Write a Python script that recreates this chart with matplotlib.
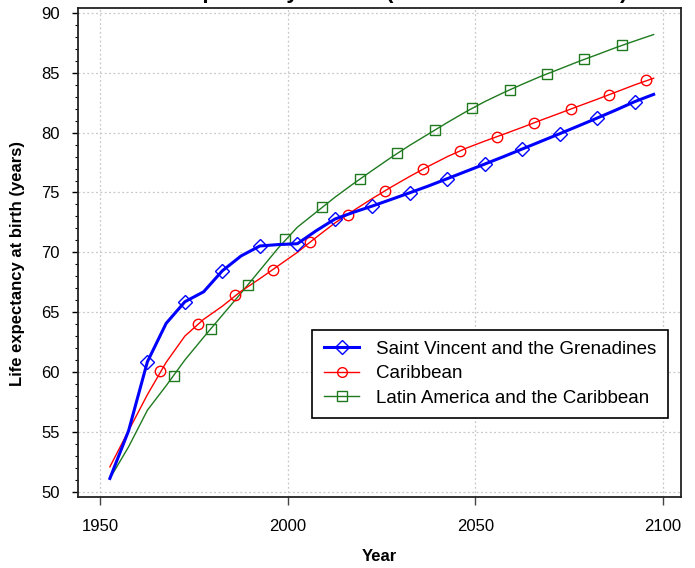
import matplotlib
matplotlib.use("Agg")
import matplotlib.pyplot as plt
from matplotlib.ticker import MultipleLocator
from matplotlib.lines import Line2D

plt.rcParams['font.family'] = ['Liberation Sans', 'DejaVu Sans']

years = [1952.5 + 5 * i for i in range(30)]

svg = [51.1, 55.1, 60.85, 64.06, 65.87, 66.7, 68.46, 69.7, 70.53, 70.65,
       70.72, 71.8, 72.78, 73.35, 73.87, 74.42, 74.98, 75.55, 76.16, 76.77,
       77.38, 78.0, 78.64, 79.28, 79.92, 80.57, 81.23, 81.9, 82.6, 83.2]

carib = [52.07, 55.1, 58.1, 60.8, 63.0, 64.4, 65.5, 66.75, 67.8, 68.9,
         70.0, 71.25, 72.45, 73.5, 74.5, 75.45, 76.35, 77.2, 78.0, 78.7,
         79.3, 79.87, 80.45, 81.05, 81.63, 82.22, 82.8, 83.4, 84.0, 84.55]

lac = [51.1, 53.75, 56.8, 58.85, 61.0, 62.9, 64.75, 66.6, 68.5, 70.4,
       72.1, 73.35, 74.6, 75.75, 76.85, 77.93, 78.95, 79.9, 80.85, 81.76,
       82.6, 83.35, 84.05, 84.72, 85.33, 85.95, 86.53, 87.12, 87.67, 88.2]

carib_mk_years = [1966, 1976, 1986, 1996, 2006, 2015.9, 2025.8, 2035.9, 2045.8,
                  2055.8, 2065.7, 2075.6, 2085.6, 2095.6]
carib_mk_vals = [60.1, 64.0, 66.43, 68.55, 70.9, 73.15, 75.15, 76.94, 78.47,
                 79.67, 80.84, 82.0, 83.18, 84.38]

lac_mk_years = [1969.5, 1979.4, 1989.4, 1999.3, 2009.2, 2019.2, 2029.2, 2039.2,
                2049.1, 2059.1, 2069.1, 2079.0, 2089.0]
lac_mk_vals = [59.7, 63.6, 67.27, 71.09, 73.8, 76.13, 78.28, 80.23, 82.04,
               83.6, 84.93, 86.14, 87.3]

labels = ["Saint Vincent and the Grenadines", "Caribbean",
          "Latin America and the Caribbean"]
title = "Life expectancy at birth (both sexes combined)"
xlabel = "Year"
ylabel = "Life expectancy at birth (years)"

fig = plt.figure(figsize=(6.95, 5.68), dpi=100)
ax = fig.add_axes([78 / 695, 71 / 568, 603 / 695, 489 / 568])

green = "#1f7a1f"

ax.plot(years, lac, color=green, lw=1.0, zorder=3)
ax.plot(lac_mk_years, lac_mk_vals, ls='none', marker='s', ms=7,
        mfc='none', mec=green, mew=1.0, zorder=4)
ax.plot(years, carib, color='red', lw=1.0, zorder=3)
ax.plot(carib_mk_years, carib_mk_vals, ls='none', marker='o', ms=7.5,
        mfc='none', mec='red', mew=1.0, zorder=4)
ax.plot(years, svg, color='blue', lw=2.2, marker='D', ms=7, mfc='none',
        mec='blue', mew=1.0, markevery=slice(2, None, 2), zorder=5)

handles = [
    Line2D([], [], color='blue', lw=2.2, marker='D', ms=7, mfc='none', mec='blue'),
    Line2D([], [], color='red', lw=1.0, marker='o', ms=7, mfc='none', mec='red'),
    Line2D([], [], color=green, lw=1.0, marker='s', ms=6.5, mfc='none', mec=green),
]
leg = ax.legend(handles, labels, loc='lower right', bbox_to_anchor=(0.978, 0.162),
                borderaxespad=0, fontsize=13.5, frameon=True, fancybox=False,
                edgecolor='black', framealpha=1, handlelength=1.9,
                handletextpad=0.9, labelspacing=0.38, borderpad=0.6)
leg.get_frame().set_linewidth(1.2)

ax.set_xlim(1944.0, 2104.8)
ax.set_ylim(49.55, 90.42)
ax.xaxis.set_major_locator(MultipleLocator(50))
ax.yaxis.set_major_locator(MultipleLocator(5))
ax.yaxis.set_minor_locator(MultipleLocator(1))
ax.grid(True, which='major', color='#c8c8c8', ls=(0, (1.5, 2)), lw=0.9)
ax.set_axisbelow(True)

ax.tick_params(axis='x', which='major', direction='out', length=6, width=1,
               color='#444444', labelsize=12, pad=10)
ax.tick_params(axis='y', which='major', direction='out', length=4, width=1,
               labelsize=12, pad=9)
ax.tick_params(axis='y', which='minor', direction='out', length=2.5, width=0.8)
for s in ax.spines.values():
    s.set_linewidth(1.3)
    s.set_color('#222222')

fig.text(379.5 / 695, 1.003, title, ha='center', va='baseline',
         fontsize=16, fontweight='bold')
fig.text(379.5 / 695, 7 / 568, xlabel, ha='center', va='baseline',
         fontsize=12, fontweight='bold')
fig.text(18 / 695, 1 - 264 / 568, ylabel, ha='center', va='center',
         rotation=90, fontsize=12, fontweight='bold')

fig.savefig("out.png", dpi=100)
